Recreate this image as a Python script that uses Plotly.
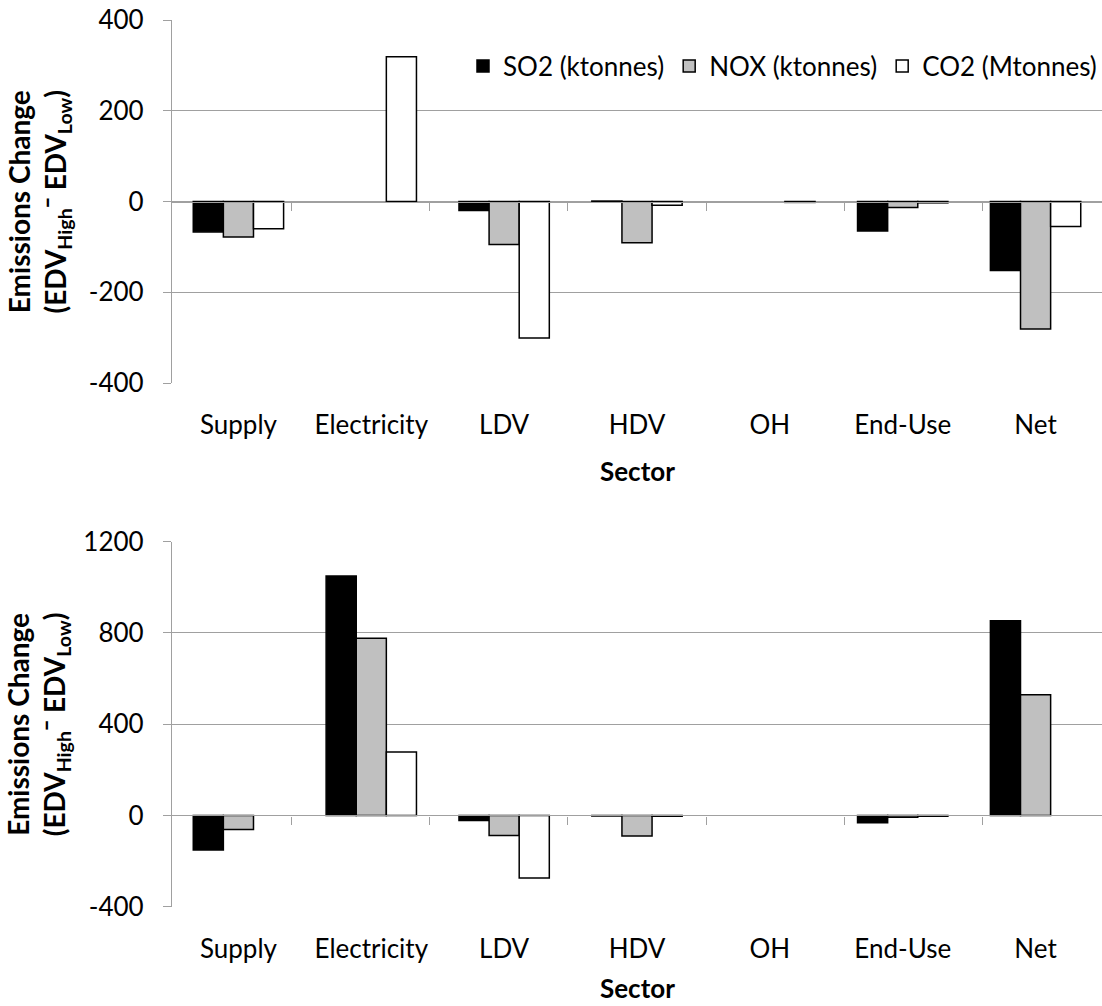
import plotly.graph_objects as go

sectors = ["Supply", "Electricity", "LDV", "HDV", "OH", "End-Use", "Net"]
series_names = ["SO2 (ktonnes)", "NOX (ktonnes)", "CO2 (Mtonnes)"]

# Top panel values (None = no visible bar)
so2_top = [-67, None, -20, 1, None, -65, -152]
nox_top = [-78, None, -95, -91, None, -13, -281]
co2_top = [-60, 319, -301, -8, -2, -3, -55]

# Bottom panel values
so2_bot = [-151, 1050, -22, -2, None, -32, 854]
nox_bot = [-62, 777, -88, -90, None, -8, 529]
co2_bot = [None, 278, -274, -4, None, -3, None]

top_ticks = [-400, -200, 0, 200, 400]
bot_ticks = [-400, 0, 400, 800, 1200]

W, H = 1102, 1006
FONT = "Lato"
fills = ["#000000", "#c0c0c0", "#ffffff"]

def py(px):
    return 1 - px / H

x0 = 172 / W
top_dom = [py(383), py(20)]
bot_dom = [py(906.7), py(541.7)]

fig = go.Figure()
top_vals = [so2_top, nox_top, co2_top]
bot_vals = [so2_bot, nox_bot, co2_bot]
for i, name in enumerate(series_names):
    fig.add_trace(go.Bar(x=sectors, y=top_vals[i], name=name, xaxis="x", yaxis="y",
                         marker=dict(color=fills[i], line=dict(color="#000000", width=1.5)),
                         legendgroup=name, showlegend=True))
for i, name in enumerate(series_names):
    fig.add_trace(go.Bar(x=sectors, y=bot_vals[i], name=name, xaxis="x2", yaxis="y2",
                         marker=dict(color=fills[i], line=dict(color="#000000", width=1.5)),
                         legendgroup=name, showlegend=False))
# invisible traces for the tick axes at zero
fig.add_trace(go.Scatter(x=sectors, y=[None]*7, xaxis="x3", yaxis="y", showlegend=False, hoverinfo="skip"))
fig.add_trace(go.Scatter(x=sectors, y=[None]*7, xaxis="x4", yaxis="y2", showlegend=False, hoverinfo="skip"))

grid = "#a0a0a0"
tickfont = dict(family=FONT, size=26, color="#000000")

def yaxis(dom, rng, ticks):
    return dict(domain=dom, range=rng, tickvals=ticks, ticktext=[str(t) for t in ticks],
                showgrid=True, gridcolor=grid, gridwidth=1.3,
                zeroline=False, showline=True, linecolor=grid, linewidth=1.3,
                ticks="outside", ticklen=8, tickcolor=grid, tickwidth=1.3, automargin=False,
                ticklabelstandoff=14, tickfont=tickfont, fixedrange=True)

def xaxis(anchor):
    return dict(domain=[x0, 1], anchor=anchor, showline=False, showgrid=False, zeroline=False,
                ticks="", tickfont=tickfont, ticklabelstandoff=24, categoryorder="array",
                categoryarray=sectors, automargin=False)

def zaxis(ov, pos):
    return dict(domain=[x0, 1], overlaying=ov, anchor="free", position=pos, showline=True,
                linecolor=grid, linewidth=1.3, ticks="outside", tickson="boundaries",
                ticklen=8, tickcolor=grid, tickwidth=1.3, showticklabels=False, automargin=False,
                showgrid=False, zeroline=False, categoryorder="array", categoryarray=sectors)

top_zero = top_dom[0] + (top_dom[1] - top_dom[0]) * (400 / 800)
bot_zero = bot_dom[0] + (bot_dom[1] - bot_dom[0]) * (400 / 1600)

fig.update_layout(
    width=W, height=H,
    margin=dict(l=0, r=0, t=0, b=0, autoexpand=False),
    paper_bgcolor="white", plot_bgcolor="white",
    barmode="group", bargap=0.32, bargroupgap=0,
    font=dict(family=FONT, size=26, color="#000000"),
    xaxis=xaxis("y"),
    yaxis=yaxis(top_dom, [-400, 400], top_ticks),
    xaxis2=xaxis("y2"),
    yaxis2=yaxis(bot_dom, [-400, 1200], bot_ticks),
    xaxis3=zaxis("x", top_zero),
    xaxis4=zaxis("x2", bot_zero),
    legend=dict(orientation="h", x=1.0, xanchor="right", y=py(66), yanchor="middle",
                font=dict(family=FONT, size=26, color="#000000"), bgcolor="rgba(0,0,0,0)",
                itemwidth=30, tracegroupgap=0, traceorder="normal"),
    showlegend=True,
)

ytitle = "<b>Emissions Change<br>(EDV<sub>High</sub>\u00af EDV<sub>Low</sub>)</b>"
for dom in (top_dom, bot_dom):
    fig.add_annotation(text=ytitle, xref="paper", yref="paper", x=38 / W, y=(dom[0] + dom[1]) / 2,
                       textangle=-90, showarrow=False, font=dict(family=FONT, size=28, color="#000000"),
                       xanchor="center", yanchor="middle")
fig.add_annotation(text="<b>Sector</b>", xref="paper", yref="paper", x=(x0 + 1) / 2, y=py(471),
                   showarrow=False, font=dict(family=FONT, size=26, color="#000000"), yanchor="middle")
fig.add_annotation(text="<b>Sector</b>", xref="paper", yref="paper", x=(x0 + 1) / 2, y=py(988),
                   showarrow=False, font=dict(family=FONT, size=26, color="#000000"), yanchor="middle")

fig.write_html("out.html")
